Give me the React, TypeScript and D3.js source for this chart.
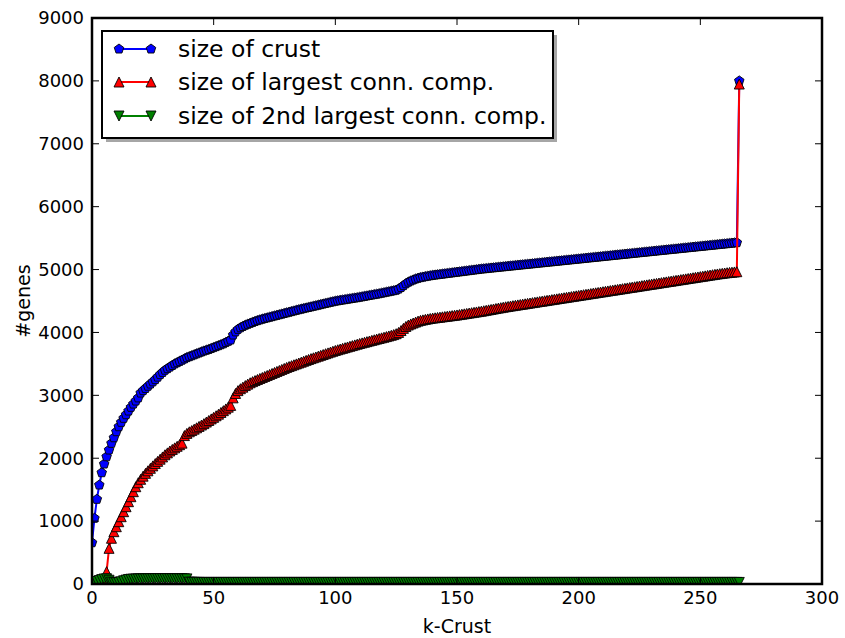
import React, { useEffect, useRef } from "react";
import * as d3 from "d3";

// size of crust, k = 0..266
const crustSize = [
  657, 1045, 1347, 1574, 1770, 1908, 2024, 2131, 2237, 2326,
  2422, 2501, 2571, 2635, 2692, 2751, 2810, 2862, 2910, 2960,
  3037, 3075, 3110, 3145, 3180, 3215, 3250, 3290, 3330, 3365,
  3400, 3425, 3450, 3475, 3500, 3520, 3540, 3560, 3580, 3600,
  3615, 3630, 3645, 3660, 3675, 3690, 3705, 3718, 3730, 3745,
  3760, 3775, 3790, 3805, 3820, 3840, 3860, 3880, 3960, 4010,
  4050, 4075, 4095, 4115, 4130, 4145, 4160, 4175, 4188, 4200,
  4212, 4222, 4232, 4242, 4252, 4262, 4272, 4282, 4292, 4302,
  4312, 4322, 4332, 4342, 4352, 4362, 4371, 4380, 4389, 4398,
  4407, 4416, 4425, 4434, 4443, 4452, 4461, 4470, 4479, 4488,
  4497, 4503, 4510, 4516, 4522, 4528, 4535, 4541, 4547, 4553,
  4560, 4567, 4574, 4581, 4588, 4595, 4602, 4609, 4616, 4624,
  4632, 4640, 4648, 4656, 4664, 4672, 4690, 4715, 4745, 4775,
  4800, 4818, 4835, 4850, 4862, 4872, 4880, 4888, 4895, 4902,
  4908, 4913, 4918, 4923, 4928, 4933, 4938, 4943, 4948, 4953,
  4958, 4963, 4968, 4973, 4978, 4983, 4988, 4993, 4998, 5003,
  5008, 5012, 5016, 5020, 5024, 5028, 5032, 5036, 5040, 5044,
  5048, 5052, 5056, 5060, 5064, 5068, 5072, 5076, 5080, 5084,
  5088, 5092, 5096, 5100, 5104, 5108, 5112, 5116, 5120, 5124,
  5128, 5132, 5136, 5140, 5144, 5148, 5152, 5156, 5160, 5164,
  5168, 5172, 5176, 5180, 5184, 5188, 5192, 5196, 5200, 5204,
  5208, 5212, 5216, 5220, 5224, 5228, 5232, 5236, 5240, 5244,
  5248, 5252, 5256, 5260, 5264, 5268, 5272, 5276, 5280, 5284,
  5288, 5292, 5296, 5300, 5304, 5308, 5312, 5316, 5320, 5324,
  5328, 5332, 5336, 5340, 5344, 5348, 5352, 5356, 5360, 5364,
  5368, 5372, 5376, 5380, 5384, 5388, 5392, 5396, 5400, 5404,
  5408, 5412, 5416, 5420, 5424, 5428, 8000,
];

// size of largest connected component
const largestComp = [
  20, 25, 30, 40, 55, 70, 196, 567, 727, 832,
  911, 991, 1070, 1150, 1229, 1309, 1388, 1468, 1547, 1610,
  1665, 1715, 1760, 1800, 1840, 1878, 1915, 1950, 1985, 2020,
  2055, 2085, 2115, 2140, 2165, 2190, 2215, 2240, 2360, 2395,
  2420, 2440, 2462, 2484, 2506, 2528, 2550, 2575, 2600, 2625,
  2650, 2675, 2700, 2728, 2756, 2784, 2812, 2840, 2960, 3030,
  3075, 3105, 3130, 3155, 3178, 3200, 3218, 3235, 3252, 3268,
  3284, 3300, 3316, 3332, 3348, 3364, 3380, 3396, 3412, 3428,
  3444, 3458, 3472, 3486, 3500, 3514, 3528, 3542, 3556, 3570,
  3584, 3597, 3610, 3623, 3636, 3649, 3662, 3675, 3688, 3701,
  3714, 3725, 3736, 3747, 3758, 3769, 3780, 3791, 3802, 3813,
  3824, 3834, 3844, 3854, 3864, 3874, 3884, 3894, 3904, 3914,
  3924, 3934, 3944, 3955, 3966, 3980, 4000, 4030, 4065, 4095,
  4118, 4135, 4150, 4165, 4180, 4192, 4200, 4208, 4215, 4222,
  4228, 4233, 4238, 4243, 4248, 4253, 4258, 4263, 4268, 4273,
  4278, 4284, 4290, 4296, 4302, 4308, 4314, 4320, 4326, 4332,
  4338, 4345, 4352, 4359, 4366, 4373, 4380, 4387, 4394, 4401,
  4408, 4414, 4420, 4426, 4432, 4438, 4444, 4450, 4456, 4462,
  4468, 4474, 4480, 4486, 4492, 4498, 4504, 4510, 4516, 4522,
  4528, 4534, 4540, 4546, 4552, 4558, 4564, 4570, 4576, 4582,
  4588, 4594, 4600, 4606, 4612, 4618, 4624, 4630, 4636, 4642,
  4648, 4654, 4660, 4666, 4672, 4678, 4684, 4690, 4696, 4702,
  4708, 4714, 4720, 4726, 4732, 4738, 4744, 4750, 4756, 4762,
  4768, 4774, 4780, 4786, 4792, 4798, 4804, 4810, 4816, 4822,
  4828, 4834, 4840, 4846, 4852, 4858, 4864, 4870, 4876, 4882,
  4888, 4894, 4900, 4906, 4912, 4918, 4924, 4930, 4935, 4940,
  4945, 4950, 4954, 4958, 4962, 4966, 7950,
];

// size of 2nd largest connected component
const secondComp = [
  20, 30, 40, 55, 70, 80, 82, 60, 30, 20,
  20, 25, 35, 50, 62, 72, 76, 78, 80, 81,
  82, 82, 83, 83, 84, 84, 85, 85, 85, 85,
  85, 85, 85, 84, 84, 84, 83, 83, 82, 81,
  30, 28, 27, 26, 26, 25, 25, 25, 25, 25,
  25, 25, 25, 25, 25, 25, 25, 25, 25, 25,
  25, 25, 25, 25, 25, 25, 25, 25, 25, 25,
  25, 25, 25, 25, 25, 25, 25, 25, 25, 25,
  25, 25, 25, 25, 25, 25, 25, 25, 25, 25,
  25, 25, 25, 25, 25, 25, 25, 25, 25, 25,
  25, 25, 25, 25, 25, 25, 25, 25, 25, 25,
  25, 25, 25, 25, 25, 25, 25, 25, 25, 25,
  25, 25, 25, 25, 25, 25, 25, 25, 25, 25,
  25, 25, 25, 25, 25, 25, 25, 25, 25, 25,
  25, 25, 25, 25, 25, 25, 25, 25, 25, 25,
  25, 25, 25, 25, 25, 25, 25, 25, 25, 25,
  25, 25, 25, 25, 25, 25, 25, 25, 25, 25,
  25, 25, 25, 25, 25, 25, 25, 25, 25, 25,
  25, 25, 25, 25, 25, 25, 25, 25, 25, 25,
  25, 25, 25, 25, 25, 25, 25, 25, 25, 25,
  25, 25, 25, 25, 25, 25, 25, 25, 25, 25,
  25, 25, 25, 25, 25, 25, 25, 25, 25, 25,
  25, 25, 25, 25, 25, 25, 25, 25, 25, 25,
  25, 25, 25, 25, 25, 25, 25, 25, 25, 25,
  25, 25, 25, 25, 25, 25, 25, 25, 25, 25,
  25, 25, 25, 25, 25, 25, 25, 25, 25, 25,
  25, 25, 25, 25, 25, 25, 25,
];

const seriesNames = [
  "size of crust",
  "size of largest conn. comp.",
  "size of 2nd largest conn. comp.",
];
const seriesColors = ["#0000ff", "#ff0000", "#008000"];
const seriesMarkers = ["pentagon", "triangleUp", "triangleDown"];

const xTicks = [0, 50, 100, 150, 200, 250, 300];
const yTicks = [0, 1000, 2000, 3000, 4000, 5000, 6000, 7000, 8000, 9000];

const W = 845;
const H = 638;
const FONT = "DejaVu Sans, sans-serif";
const MARKER_R = 5;

function markerPath(kind: string, r: number): string {
  if (kind === "pentagon") {
    const pts = d3.range(5).map((i) => {
      const a = (-90 + 72 * i) * (Math.PI / 180);
      return [r * Math.cos(a), r * Math.sin(a)];
    });
    return "M" + pts.map((p) => p.join(",")).join("L") + "Z";
  }
  if (kind === "triangleUp") {
    return `M0,${-r}L${r},${r}L${-r},${r}Z`;
  }
  return `M0,${r}L${r},${-r}L${-r},${-r}Z`;
}

export default function App() {
  const ref = useRef<SVGSVGElement>(null);

  useEffect(() => {
    const svg = d3.select(ref.current);
    svg.selectAll("*").remove();

    const left = 92;
    const right = 822;
    const top = 18;
    const bottom = 584;

    const x = d3.scaleLinear().domain([0, 300]).range([left, right]);
    const y = d3.scaleLinear().domain([0, 9000]).range([bottom, top]);

    svg
      .append("defs")
      .append("clipPath")
      .attr("id", "plotclip")
      .append("rect")
      .attr("x", left)
      .attr("y", top)
      .attr("width", right - left)
      .attr("height", bottom - top);

    const plot = svg.append("g").attr("clip-path", "url(#plotclip)");

    const allSeries = [crustSize, largestComp, secondComp];
    const line = d3
      .line<number>()
      .x((d, i) => x(i))
      .y((d) => y(d));

    allSeries.forEach((data, s) => {
      plot
        .append("path")
        .attr("d", line(data))
        .attr("fill", "none")
        .attr("stroke", seriesColors[s])
        .attr("stroke-width", 2)
        .attr("stroke-linejoin", "round");

      const mp = markerPath(seriesMarkers[s], MARKER_R);
      plot
        .append("g")
        .selectAll("path")
        .data(data)
        .join("path")
        .attr("transform", (d, i) => `translate(${x(i)},${y(d)})`)
        .attr("d", mp)
        .attr("fill", seriesColors[s])
        .attr("stroke", "#000")
        .attr("stroke-width", 0.9);
    });

    // ticks (inward, all four sides)
    const tickLen = 7;
    const axes = svg.append("g").attr("stroke", "#000").attr("stroke-width", 1);
    xTicks.forEach((t) => {
      axes.append("line").attr("x1", x(t)).attr("x2", x(t)).attr("y1", bottom).attr("y2", bottom - tickLen);
      axes.append("line").attr("x1", x(t)).attr("x2", x(t)).attr("y1", top).attr("y2", top + tickLen);
    });
    yTicks.forEach((t) => {
      axes.append("line").attr("x1", left).attr("x2", left + tickLen).attr("y1", y(t)).attr("y2", y(t));
      axes.append("line").attr("x1", right).attr("x2", right - tickLen).attr("y1", y(t)).attr("y2", y(t));
    });

    // frame
    svg
      .append("rect")
      .attr("x", left)
      .attr("y", top)
      .attr("width", right - left)
      .attr("height", bottom - top)
      .attr("fill", "none")
      .attr("stroke", "#000")
      .attr("stroke-width", 2.5);

    // tick labels
    svg
      .append("g")
      .selectAll("text")
      .data(xTicks)
      .join("text")
      .attr("x", (d) => x(d))
      .attr("y", 604)
      .attr("text-anchor", "middle")
      .attr("font-family", FONT)
      .attr("font-size", 18)
      .text((d) => String(d));

    svg
      .append("g")
      .selectAll("text")
      .data(yTicks)
      .join("text")
      .attr("x", left - 8)
      .attr("y", (d) => y(d))
      .attr("dy", "0.35em")
      .attr("text-anchor", "end")
      .attr("font-family", FONT)
      .attr("font-size", 18)
      .text((d) => String(d));

    // axis labels
    svg
      .append("text")
      .attr("x", (left + right) / 2)
      .attr("y", 633)
      .attr("text-anchor", "middle")
      .attr("font-family", FONT)
      .attr("font-size", 19)
      .text("k-Crust");

    svg
      .append("text")
      .attr("transform", `translate(30,${(top + bottom) / 2}) rotate(-90)`)
      .attr("text-anchor", "middle")
      .attr("font-family", FONT)
      .attr("font-size", 19)
      .text("#genes");

    // legend
    const lx = 102;
    const ly = 31;
    const lw = 451;
    const lh = 107;
    const legend = svg.append("g");
    legend
      .append("rect")
      .attr("x", lx + 4)
      .attr("y", ly + 4)
      .attr("width", lw)
      .attr("height", lh)
      .attr("fill", "#4d4d4d")
      .attr("opacity", 0.5);
    legend
      .append("rect")
      .attr("x", lx)
      .attr("y", ly)
      .attr("width", lw)
      .attr("height", lh)
      .attr("fill", "#fff")
      .attr("stroke", "#000")
      .attr("stroke-width", 2);

    const rowY = [49, 82, 116];
    seriesNames.forEach((name, s) => {
      const g = legend.append("g");
      g.append("line")
        .attr("x1", 119)
        .attr("x2", 151)
        .attr("y1", rowY[s])
        .attr("y2", rowY[s])
        .attr("stroke", seriesColors[s])
        .attr("stroke-width", 2);
      [119, 151].forEach((mx) => {
        g.append("path")
          .attr("transform", `translate(${mx},${rowY[s]})`)
          .attr("d", markerPath(seriesMarkers[s], MARKER_R))
          .attr("fill", seriesColors[s])
          .attr("stroke", "#000")
          .attr("stroke-width", 0.9);
      });
      g.append("text")
        .attr("x", 178)
        .attr("y", rowY[s])
        .attr("dy", "0.33em")
        .attr("font-family", FONT)
        .attr("font-size", 23.5)
        .text(name);
    });
  }, []);

  return (
    <svg
      ref={ref}
      width={W}
      height={H}
      style={{ position: "absolute", left: 0, top: 0, background: "#fff" }}
    />
  );
}
